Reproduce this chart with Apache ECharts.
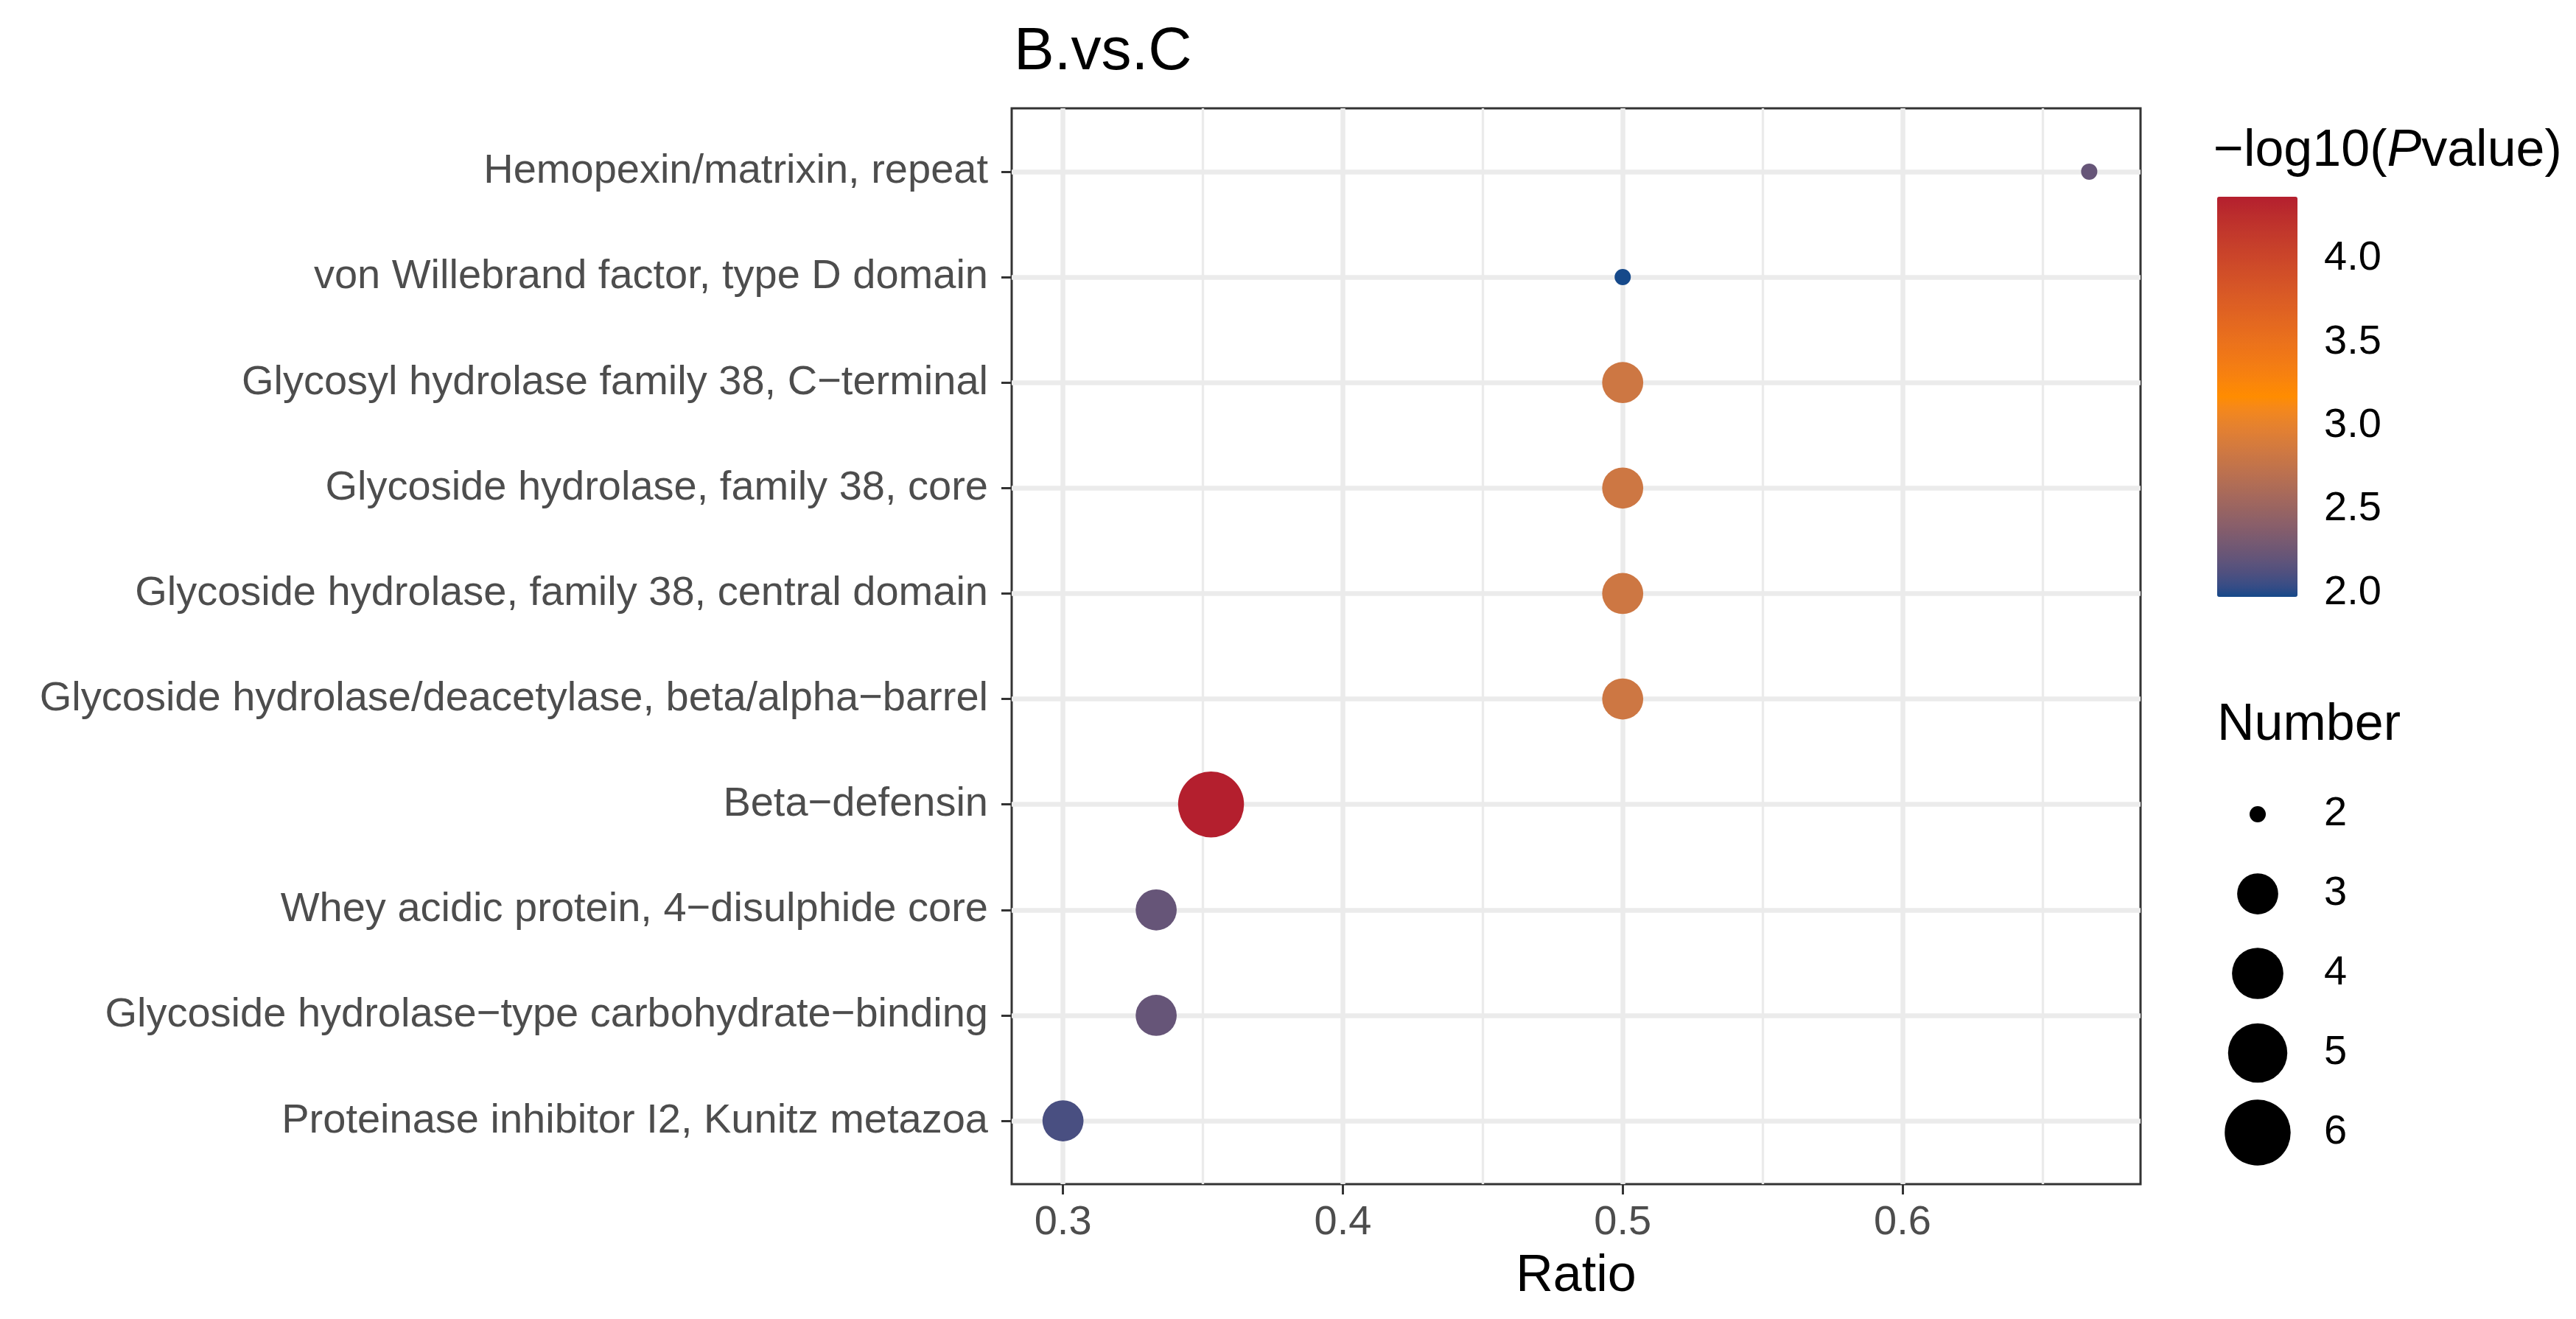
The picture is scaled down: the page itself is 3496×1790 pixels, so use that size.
<!DOCTYPE html>
<html><head><meta charset="utf-8">
<script src="https://cdn.jsdelivr.net/npm/echarts@6/dist/echarts.min.js"></script>
<style>html,body{margin:0;padding:0;background:#fff}#c{width:3496px;height:1790px}</style>
</head><body><div id="c"></div>
<script>
// ---- data (top to bottom) ----
const categories = [
  'Hemopexin/matrixin, repeat',
  'von Willebrand factor, type D domain',
  'Glycosyl hydrolase family 38, C\u2212terminal',
  'Glycoside hydrolase, family 38, core',
  'Glycoside hydrolase, family 38, central domain',
  'Glycoside hydrolase/deacetylase, beta/alpha\u2212barrel',
  'Beta\u2212defensin',
  'Whey acidic protein, 4\u2212disulphide core',
  'Glycoside hydrolase\u2212type carbohydrate\u2212binding',
  'Proteinase inhibitor I2, Kunitz metazoa'
];
const ratios  = [0.6667, 0.5, 0.5, 0.5, 0.5, 0.5, 0.3529, 0.3333, 0.3333, 0.3];
const logP    = [2.22, 1.975, 2.83, 2.83, 2.83, 2.83, 4.37, 2.22, 2.22, 2.10];
const numbers = [2, 2, 3, 3, 3, 3, 6, 3, 3, 3];
const xTicks = [0.3, 0.4, 0.5, 0.6];
const xMinorTicks = [0.35, 0.45, 0.55, 0.65];
const colorTicks = [2.0, 2.5, 3.0, 3.5, 4.0];
const sizeLegendValues = [2, 3, 4, 5, 6];
const lowColor = '#15498A', midColor = '#FF8C00', highColor = '#B41F2E';

const FONT = 'Liberation Sans, Arial, Helvetica, sans-serif';

// ---- scales ----
const colorMin = Math.min(...logP), colorMax = Math.max(...logP);
const rMin = Math.min(...ratios), rMax = Math.max(...ratios);
const xMin = rMin - 0.05 * (rMax - rMin), xMax = rMax + 0.05 * (rMax - rMin);
const nMin = Math.min(...numbers), nMax = Math.max(...numbers);
function sizeOf(n) { return 8.5 + 13.5 * (1 + 5 * Math.sqrt((n - nMin) / (nMax - nMin))); }

// Lab interpolation like ggplot
function hex2rgb(h){return [parseInt(h.slice(1,3),16),parseInt(h.slice(3,5),16),parseInt(h.slice(5,7),16)];}
function s2l(c){c/=255;return c<=0.04045?c/12.92:Math.pow((c+0.055)/1.055,2.4);}
function l2s(c){c=c<=0.0031308?12.92*c:1.055*Math.pow(c,1/2.4)-0.055;return Math.round(Math.max(0,Math.min(1,c))*255);}
function rgb2lab(rgb){const [r,g,b]=rgb.map(s2l);
  const X=(0.4124*r+0.3576*g+0.1805*b)/0.95047,Y=(0.2126*r+0.7152*g+0.0722*b),Z=(0.0193*r+0.1192*g+0.9505*b)/1.08883;
  const f=t=>t>0.008856?Math.cbrt(t):7.787*t+16/116;const fx=f(X),fy=f(Y),fz=f(Z);
  return [116*fy-16,500*(fx-fy),200*(fy-fz)];}
function lab2hex(lab){const fy=(lab[0]+16)/116,fx=fy+lab[1]/500,fz=fy-lab[2]/200;
  const fi=t=>{const t3=t*t*t;return t3>0.008856?t3:(t-16/116)/7.787;};
  const X=0.95047*fi(fx),Y=fi(fy),Z=1.08883*fi(fz);
  const r=3.2406*X-1.5372*Y-0.4986*Z,g=-0.9689*X+1.8758*Y+0.0415*Z,b=0.0557*X-0.2040*Y+1.0570*Z;
  return '#'+[r,g,b].map(l2s).map(v=>v.toString(16).padStart(2,'0')).join('');}
const labs=[lowColor,midColor,highColor].map(h=>rgb2lab(hex2rgb(h)));
const stops=[];const NS=60;
for(let i=0;i<=NS;i++){const t=i/NS;let a,b,s;if(t<=0.5){a=labs[0];b=labs[1];s=t*2;}else{a=labs[1];b=labs[2];s=(t-0.5)*2;}
  stops.push(lab2hex([0,1,2].map(k=>a[k]+(b[k]-a[k])*s)));}

// ---- layout ----
const PL = 1373, PW = 1532, PT = 147, PH = 1460;
const band = PH / (categories.length + 0.2);
const DT = PT + 0.1 * band, DH = band * categories.length;

const chart = echarts.init(document.getElementById('c'));
const gridLine = (w) => ({ color: '#EBEBEB', width: w, type: 'solid' });
const option = {
  animation: false,
  backgroundColor: '#ffffff',
  textStyle: { fontFamily: FONT },
  title: [
    { text: 'B.vs.C', left: PL - 2, top: 25, textStyle: { fontSize: 82, fontWeight: 'normal', color: '#000', fontFamily: FONT, lineHeight: 82 } },
    { text: '\u2212log10({i|P}value)', left: 2999, top: 166,
      textStyle: { fontSize: 70, fontWeight: 'normal', color: '#000', fontFamily: FONT, lineHeight: 70,
        rich: { i: { fontStyle: 'italic', fontSize: 70, color: '#000', fontFamily: FONT } } } },
    { text: 'Number', left: 3004, top: 945, textStyle: { fontSize: 70, fontWeight: 'normal', color: '#000', fontFamily: FONT, lineHeight: 70 } }
  ],
  grid: [
    { left: PL, top: DT, width: PW, height: DH },
    { left: PL, top: PT, width: PW, height: PH, show: true, borderColor: '#333333', borderWidth: 3, backgroundColor: 'transparent' },
    { left: 3009, top: 267, width: 109, height: 543 },
    { left: 3004, top: 1051, width: 120, height: 540 }
  ],
  xAxis: [
    { gridIndex: 0, type: 'value', min: xMin, max: xMax, show: false },
    { gridIndex: 1, type: 'value', min: xMin, max: xMax,
      axisLine: { show: false },
      axisTick: { show: true, length: 14, lineStyle: { color: '#333333', width: 3 }, customValues: xTicks },
      axisLabel: { show: true, customValues: xTicks, fontSize: 56, color: '#4D4D4D', margin: 25, fontFamily: FONT,
        formatter: v => String(+v.toFixed(1)) },
      splitLine: { show: false },
      name: 'Ratio', nameLocation: 'middle', nameGap: 91,
      nameTextStyle: { fontSize: 70, color: '#000', fontFamily: FONT } },
    { gridIndex: 2, type: 'value', show: false, min: 0, max: 1 },
    { gridIndex: 3, type: 'value', show: false, min: -1, max: 1 }
  ],
  yAxis: [
    { gridIndex: 0, type: 'category', data: categories, inverse: true, boundaryGap: true,
      axisLine: { show: false },
      axisTick: { show: true, alignWithLabel: true, length: 14, lineStyle: { color: '#333333', width: 3 } },
      axisLabel: { fontSize: 56, color: '#4D4D4D', margin: 32, fontFamily: FONT },
      splitLine: { show: false } },
    { gridIndex: 1, type: 'value', min: 0, max: 1, show: false },
    { gridIndex: 2, type: 'value', min: colorMin, max: colorMax, position: 'left',
      axisLine: { show: false },
      axisTick: { show: true, inside: true, length: 22, lineStyle: { color: '#ffffff', width: 2.5 }, customValues: colorTicks },
      axisLabel: { show: false, customValues: colorTicks },
      splitLine: { show: false } },
    { gridIndex: 2, type: 'value', min: colorMin, max: colorMax, position: 'right',
      axisLine: { show: false },
      axisTick: { show: true, inside: true, length: 22, lineStyle: { color: '#ffffff', width: 2.5 }, customValues: colorTicks },
      axisLabel: { show: true, customValues: colorTicks, formatter: v => v.toFixed(1), margin: 36, fontSize: 56, color: '#000', fontFamily: FONT },
      splitLine: { show: false } },
    { gridIndex: 3, type: 'category', data: sizeLegendValues.map(String), inverse: true, position: 'right',
      axisLine: { show: false }, axisTick: { show: false },
      axisLabel: { margin: 30, fontSize: 56, color: '#000', fontFamily: FONT },
      splitLine: { show: false } }
  ],
  visualMap: [{
    type: 'continuous', min: colorMin, max: colorMax, dimension: 2, seriesIndex: 0,
    inRange: { color: stops },
    left: 3009, top: 267, itemWidth: 109, itemHeight: 543, padding: 0,
    calculable: false, text: null, showLabel: false, hoverLink: false, orient: 'vertical'
  }],
  series: [
    { type: 'scatter', xAxisIndex: 0, yAxisIndex: 0, z: 3,
      data: categories.map((c, i) => [ratios[i], c, logP[i], numbers[i]]),
      symbol: 'circle', symbolSize: v => sizeOf(v[3]),
      itemStyle: { opacity: 1 }, emphasis: { disabled: true } },
    { type: 'line', xAxisIndex: 0, yAxisIndex: 0, data: [], z: 1, silent: true,
      markLine: { z: 1, silent: true, symbol: 'none', label: { show: false }, animation: false,
        lineStyle: gridLine(6.5), emphasis: { disabled: true },
        data: categories.map(c => ({ yAxis: c })) } },
    { type: 'line', xAxisIndex: 1, yAxisIndex: 1, data: [], z: 1, silent: true,
      markLine: { z: 1, silent: true, symbol: 'none', label: { show: false }, animation: false,
        lineStyle: gridLine(6.5), emphasis: { disabled: true },
        data: xTicks.map(v => ({ xAxis: v })).concat(xMinorTicks.map(v => ({ xAxis: v, lineStyle: gridLine(3.3) }))) } },
    { type: 'scatter', xAxisIndex: 3, yAxisIndex: 4, z: 3,
      data: sizeLegendValues.map(v => [0, String(v), v]),
      symbol: 'circle', symbolSize: v => sizeOf(v[2]),
      itemStyle: { color: '#000000', opacity: 1 }, emphasis: { disabled: true } }
  ]
};
chart.setOption(option);
</script></body></html>
